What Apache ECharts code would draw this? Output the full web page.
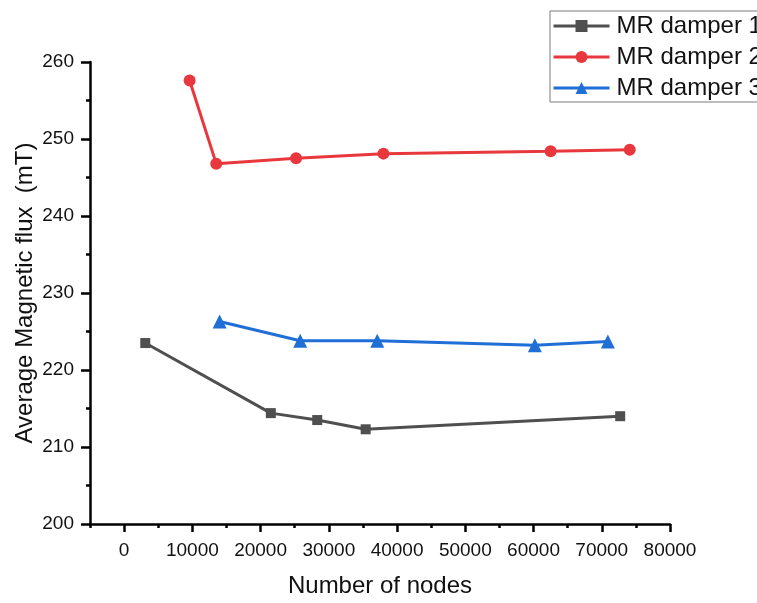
<!DOCTYPE html>
<html>
<head>
<meta charset="utf-8">
<script src="https://cdn.jsdelivr.net/npm/echarts@6/dist/echarts.min.js"></script>
<style>
  html, body { margin: 0; padding: 0; background: #fff; }
  #chart { width: 757px; height: 603px; }
</style>
</head>
<body>
<div id="chart"></div>
<script>
// Mesh-convergence study: average magnetic flux vs. number of mesh nodes
const seriesNames = ['MR damper 1', 'MR damper 2', 'MR damper 3'];

const nodes1 = [3100, 21500, 28300, 35400, 72700];
const flux1  = [223.5, 214.4, 213.5, 212.3, 214.0];

const nodes2 = [9600, 13500, 25200, 38000, 62500, 74100];
const flux2  = [257.6, 246.8, 247.5, 248.1, 248.4, 248.6];

const nodes3 = [14000, 25800, 37100, 60200, 70900];
const flux3  = [226.3, 223.8, 223.8, 223.2, 223.7];

const xMajorTicks = [0, 10000, 20000, 30000, 40000, 50000, 60000, 70000, 80000];
const xMinorTicks = [-5000, 5000, 15000, 25000, 35000, 45000, 55000, 65000, 75000];

const colors = ['#4f4f4f', '#e8383d', '#1f6fd6'];
const symbols = ['rect', 'circle', 'triangle'];
const symbolSizes = [10, 12, 14];

function zip(xs, ys) { return xs.map((x, i) => [x, ys[i]]); }
const allData = [zip(nodes1, flux1), zip(nodes2, flux2), zip(nodes3, flux3)];

const FONT = 'Liberation Sans, Arial, sans-serif';

const chart = echarts.init(document.getElementById('chart'), null, { renderer: 'canvas' });

chart.setOption({
  backgroundColor: '#ffffff',
  animation: false,
  grid: { left: 90, right: 87, top: 62, bottom: 74, containLabel: false },
  legend: {
    left: 550,
    top: 11,
    orient: 'vertical',
    data: seriesNames,
    itemWidth: 56,
    itemHeight: 15,
    itemGap: 7,
    padding: [3, 30, 2, 2],
    borderColor: '#7a7a7a',
    borderWidth: 1,
    backgroundColor: '#ffffff',
    lineStyle: { width: 3 },
    textStyle: { fontFamily: FONT, fontSize: 24, color: '#111', padding: [0, 0, 0, 2] }
  },
  xAxis: [
    {
      type: 'value',
      min: -5000,
      max: 80000,
      interval: 5000,
      name: 'Number of nodes',
      nameLocation: 'middle',
      nameGap: 50,
      nameMoveOverlap: false,
      nameTextStyle: { fontFamily: FONT, fontSize: 24, color: '#111' },
      axisLine: { show: true, onZero: false, lineStyle: { color: '#000', width: 2.5 } },
      axisTick: { show: true, length: 8, customValues: xMajorTicks, lineStyle: { color: '#000', width: 2.5 } },
      axisLabel: {
        customValues: xMajorTicks,
        formatter: (v) => String(v),
        fontFamily: FONT, fontSize: 19, color: '#111', margin: 17
      },
      splitLine: { show: false }
    },
    {
      type: 'value',
      min: -5000,
      max: 80000,
      interval: 5000,
      position: 'bottom',
      offset: 0,
      axisLine: { show: false },
      axisTick: { show: true, length: 4, customValues: xMinorTicks, lineStyle: { color: '#000', width: 2.5 } },
      axisLabel: { show: false },
      splitLine: { show: false }
    }
  ],
  yAxis: {
    type: 'value',
    min: 200,
    max: 260,
    interval: 10,
    name: 'Average Magnetic flux  (mT)',
    nameLocation: 'middle',
    nameGap: 53,
    nameMoveOverlap: false,
    nameTextStyle: { fontFamily: FONT, fontSize: 24, color: '#111' },
    axisLine: { show: true, onZero: false, lineStyle: { color: '#000', width: 2.5 } },
    axisTick: { show: true, length: 9, lineStyle: { color: '#000', width: 2.5 } },
    minorTick: { show: true, splitNumber: 2, length: 4, lineStyle: { color: '#000', width: 2.5 } },
    axisLabel: { formatter: (v) => String(v), fontFamily: FONT, fontSize: 19, color: '#111', margin: 16 },
    splitLine: { show: false }
  },
  series: seriesNames.map((name, i) => ({
    name: name,
    type: 'line',
    xAxisIndex: 0,
    data: allData[i],
    symbol: symbols[i],
    symbolSize: symbolSizes[i],
    showAllSymbol: true,
    color: colors[i],
    lineStyle: { color: colors[i], width: 3 },
    itemStyle: { color: colors[i] }
  }))
});
</script>
</body>
</html>
